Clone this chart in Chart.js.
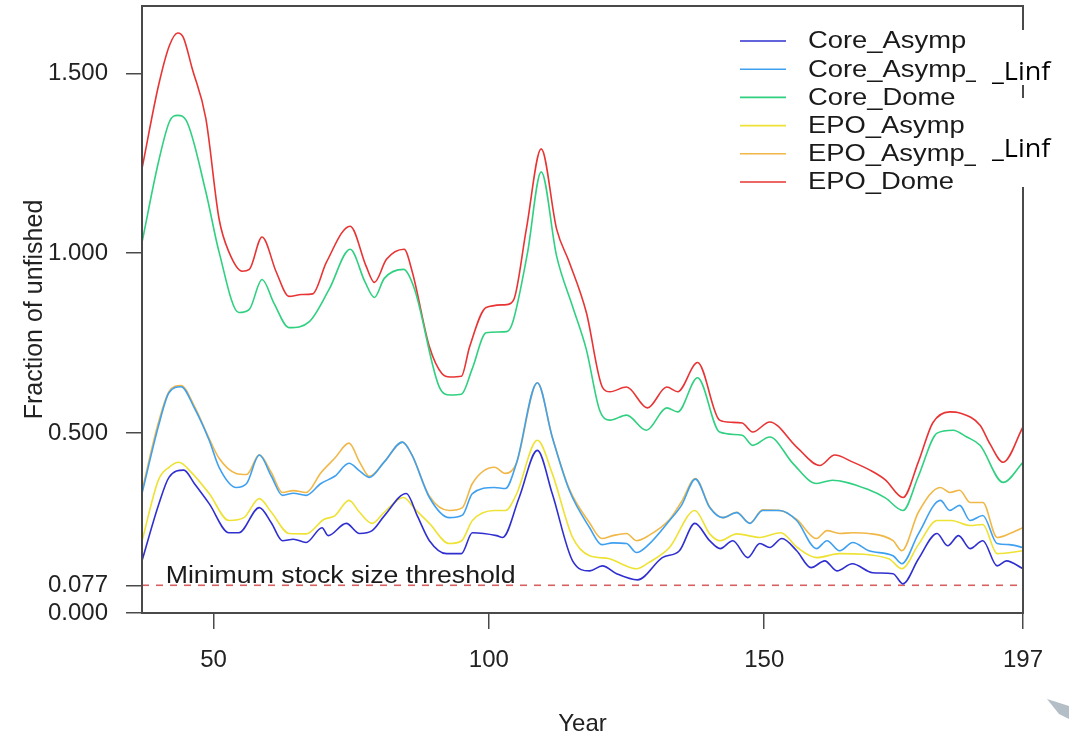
<!DOCTYPE html>
<html><head><meta charset="utf-8">
<script src="https://cdn.jsdelivr.net/npm/chart.js@4.4.1/dist/chart.umd.min.js"></script>
<style>html,body{margin:0;padding:0;background:#fff;}canvas{display:block;}</style>
</head><body>
<canvas id="c" width="1069" height="740"></canvas>
<script>
// ---- data ----
const seriesNames = ['Core_Asymp','Core_Asymp_Linf','Core_Dome','EPO_Asymp','EPO_Asymp_Linf','EPO_Dome'];
const legendText = ['Core_Asymp','Core_Asymp_','Core_Dome','EPO_Asymp','EPO_Asymp_','EPO_Dome'];
const legendOverlayText = '_Linf';

const coreAsympYears = [37,40,41.9,44.6,46.5,49.2,52.8,54.6,58.3,60.5,62.5,64.5,66.8,69.7,70.8,74.1,76.5,78.8,81,85,87,89.2,92.3,95,97,101.4,102.5,105.5,108.8,111.5,115.2,118.3,120.6,123.2,127,131.5,134.6,137.4,140.1,142,144.3,147,149.2,151,153.2,155.9,158.5,161,163.2,166,169.7,173.4,175.2,178,181.4,183.3,185.3,187.4,189.7,192.3,194,197];
const coreAsympValues = [0.145,0.3,0.377,0.397,0.36,0.304,0.223,0.223,0.293,0.25,0.201,0.205,0.196,0.237,0.215,0.249,0.221,0.229,0.27,0.332,0.27,0.201,0.165,0.165,0.223,0.215,0.21,0.321,0.452,0.332,0.145,0.117,0.131,0.109,0.092,0.154,0.173,0.249,0.201,0.179,0.201,0.154,0.193,0.182,0.207,0.173,0.126,0.145,0.117,0.137,0.112,0.109,0.081,0.15,0.221,0.187,0.215,0.179,0.201,0.131,0.145,0.123];

const linfYears = [37,40,41.9,44.1,46.5,49.2,51,54.1,56,58.3,60.5,62.5,64.5,66.8,69.5,72,74.6,76.5,78.3,81,84.3,86,89.2,92.8,95.2,97,101,103,105,108.8,111.5,114.6,118.3,120.5,122.5,125,126.8,129,132.8,135,137.5,140.1,142.5,145,147.4,149.7,152.8,155.9,159.5,161.4,163.7,166.1,169,173.4,175,178,182,183.7,185.5,187.4,189.7,192.3,194.5,197];
const coreAsympLinfValues = [0.332,0.52,0.612,0.629,0.57,0.48,0.405,0.349,0.36,0.439,0.38,0.327,0.333,0.327,0.36,0.38,0.416,0.395,0.377,0.42,0.475,0.44,0.321,0.265,0.272,0.332,0.349,0.346,0.416,0.64,0.489,0.341,0.237,0.19,0.195,0.193,0.168,0.19,0.257,0.3,0.372,0.293,0.265,0.279,0.249,0.285,0.285,0.257,0.179,0.201,0.173,0.196,0.173,0.159,0.137,0.22,0.313,0.285,0.299,0.257,0.271,0.193,0.19,0.182];
const epoAsympLinfValues = [0.34,0.53,0.615,0.632,0.575,0.485,0.43,0.388,0.385,0.44,0.39,0.335,0.34,0.335,0.39,0.43,0.472,0.42,0.38,0.42,0.475,0.44,0.325,0.285,0.293,0.36,0.405,0.388,0.416,0.64,0.49,0.345,0.25,0.207,0.215,0.221,0.201,0.215,0.26,0.31,0.374,0.295,0.265,0.28,0.25,0.287,0.285,0.26,0.207,0.229,0.221,0.223,0.221,0.201,0.173,0.28,0.349,0.335,0.341,0.307,0.307,0.21,0.22,0.237];

const coreDomeYears = [37,40,42,43.5,45,48.6,51,54.6,56.5,58.8,61,63.7,67.4,71,74.8,77.5,79.2,81,84.5,86.5,91,93,95,97,99.5,103.2,104.3,107,109.5,112.3,115.2,117.7,120.1,122,125,128.6,132.3,134.3,137.9,141.9,146,147.9,151,155.2,159.5,162.4,169.2,172,175.2,178,181.4,184.3,186.8,189.2,193.4,197];
const coreDomeValues = [1.03,1.254,1.366,1.383,1.37,1.17,1.003,0.835,0.844,0.927,0.86,0.793,0.81,0.9,1.011,0.92,0.877,0.93,0.955,0.9,0.628,0.606,0.608,0.68,0.779,0.782,0.807,1.0,1.226,0.992,0.852,0.732,0.564,0.536,0.55,0.508,0.57,0.559,0.654,0.503,0.494,0.466,0.489,0.416,0.36,0.369,0.341,0.32,0.285,0.38,0.5,0.508,0.489,0.466,0.363,0.419];

const epoAsympYears = [37,40,41.9,43.7,46,49.2,52.8,55.5,58.3,60.5,63.7,66.8,70,72,74.6,76.5,78.8,81,84.5,86.5,89.2,92.8,95,97,101,103,105,108.8,111.5,115.2,118.3,121.9,124,126.8,129,132.8,137.4,140.1,142,145,149.2,153,156,159.5,163.7,172.6,175,178,181.4,184,187.4,189.7,192.3,197];
const epoAsympValues = [0.2,0.37,0.405,0.419,0.39,0.332,0.257,0.265,0.318,0.28,0.221,0.22,0.26,0.27,0.313,0.28,0.249,0.28,0.321,0.29,0.249,0.193,0.2,0.257,0.285,0.285,0.33,0.48,0.388,0.21,0.159,0.151,0.137,0.123,0.14,0.182,0.285,0.22,0.201,0.22,0.21,0.223,0.182,0.154,0.165,0.151,0.123,0.19,0.257,0.257,0.243,0.246,0.165,0.173];

const epoDomeYears = [37,40,42,43.5,44.5,46.1,48.6,51,52.8,55.2,56.5,58.8,61.4,63.7,66,68,70.5,74.8,77.7,79.2,81.4,84.6,86.1,89.2,91.5,93,95,96.5,99.5,103.2,104.5,106.8,109.5,112.3,114.6,117.7,120.6,122,125,128.8,132.3,134.3,137.9,141.9,144,146,147.9,151,155.9,160.1,162.8,166,169.2,172,175.2,178,180.6,183.7,185.5,189.2,191,193.4,197];
const epoDomeValues = [1.235,1.466,1.578,1.612,1.60,1.514,1.374,1.095,1.003,0.95,0.955,1.045,0.947,0.88,0.885,0.887,0.975,1.075,0.964,0.919,0.983,1.011,0.947,0.74,0.665,0.656,0.658,0.74,0.849,0.857,0.87,1.067,1.29,1.067,0.975,0.835,0.628,0.615,0.628,0.57,0.628,0.615,0.696,0.536,0.53,0.528,0.503,0.531,0.461,0.41,0.439,0.42,0.397,0.37,0.321,0.42,0.528,0.559,0.556,0.522,0.47,0.419,0.517];

const thresholdValue = 0.077;
const thresholdLabel = 'Minimum stock size threshold';
const xTickValues = [50, 100, 150, 197];
const yTickValues = [0, 0.077, 0.5, 1.0, 1.5];
const xRange = [37, 197];
const yRange = [0, 1.687];

// ---- styles ----
const seriesColors = ['#2f2fd0', '#3fa0f0', '#2fd080', '#eee234', '#f0b848', '#e83434'];
const FONT = '"Liberation Sans", Arial, sans-serif';

function pts(xs, ys) { return xs.map((x, i) => ({x: x, y: ys[i]})); }
const seriesData = [
  pts(coreAsympYears, coreAsympValues),
  pts(linfYears, coreAsympLinfValues),
  pts(coreDomeYears, coreDomeValues),
  pts(epoAsympYears, epoAsympValues),
  pts(linfYears, epoAsympLinfValues),
  pts(epoDomeYears, epoDomeValues)
];

const datasets = seriesNames.map((name, i) => ({
  label: name,
  data: seriesData[i],
  borderColor: seriesColors[i],
  borderWidth: 1.6,
  pointRadius: 0,
  fill: false,
  cubicInterpolationMode: 'monotone'
}));
datasets.push({
  label: 'threshold',
  data: [{x: xRange[0], y: thresholdValue}, {x: xRange[1], y: thresholdValue}],
  borderColor: '#d86060',
  borderWidth: 1.6,
  borderDash: [7, 7],
  pointRadius: 0,
  fill: false
});

const decor = {
  id: 'decor',
  beforeDraw(chart) {
    const ctx = chart.ctx;
    ctx.save(); ctx.fillStyle = '#fff'; ctx.fillRect(0, 0, chart.width, chart.height); ctx.restore();
  },
  afterDraw(chart) {
    const {ctx, chartArea: a, scales} = chart;
    ctx.save();
    // box
    ctx.strokeStyle = '#4a4a4a'; ctx.lineWidth = 2;
    ctx.strokeRect(a.left, a.top, a.right - a.left, a.bottom - a.top);
    // threshold text
    ctx.fillStyle = '#1a1a1a';
    ctx.font = '23px ' + FONT;
    ctx.textBaseline = 'alphabetic';
    ctx.save();
    ctx.translate(scales.x.getPixelForValue(41.3), scales.y.getPixelForValue(thresholdValue) - 2);
    ctx.scale(1.16, 1);
    ctx.fillText(thresholdLabel, 0, 0);
    ctx.restore();
    // legend
    const rowY0 = 41, rowH = 28.2;
    legendText.forEach((t, i) => {
      const yy = rowY0 + i * rowH;
      ctx.strokeStyle = seriesColors[i]; ctx.lineWidth = 1.6;
      ctx.beginPath(); ctx.moveTo(740, yy); ctx.lineTo(786, yy); ctx.stroke();
      ctx.save();
      ctx.translate(808, yy); ctx.scale(1.19, 1);
      ctx.textBaseline = 'middle'; ctx.fillStyle = '#1a1a1a';
      ctx.fillText(t, 0, 1);
      ctx.restore();
    });
    // pasted "_Linf" overlays
    ctx.fillStyle = '#fff';
    ctx.fillRect(976, 30, 93, 55);
    ctx.fillRect(976, 98, 93, 89);
    ctx.fillStyle = '#000';
    ctx.font = '25px "Open Sans", "Noto Sans", sans-serif';
    ctx.textBaseline = 'alphabetic';
    [80, 157].forEach(by => {
      ctx.save(); ctx.translate(992, by); ctx.scale(1.08, 1); ctx.fillText(legendOverlayText, 0, 0); ctx.restore();
    });
    // page-curl artifact, bottom right
    ctx.fillStyle = '#b4bec6';
    ctx.beginPath(); ctx.moveTo(1047, 699); ctx.lineTo(1069, 706); ctx.lineTo(1069, 719); ctx.lineTo(1059, 714); ctx.closePath(); ctx.fill();
    ctx.restore();
  }
};

Chart.defaults.font.family = FONT;
new Chart(document.getElementById('c'), {
  type: 'line',
  data: {datasets: datasets},
  options: {
    responsive: false,
    devicePixelRatio: 1,
    animation: false,
    layout: {padding: {top: 6, right: 46, left: 0, bottom: 0}},
    plugins: {legend: {display: false}, tooltip: {enabled: false}},
    scales: {
      x: {
        type: 'linear', min: xRange[0], max: xRange[1],
        afterBuildTicks: s => { s.ticks = xTickValues.map(v => ({value: v})); },
        afterFit: s => { s.height = 127; s.paddingLeft = 0; s.paddingRight = 0; },
        ticks: {font: {size: 24}, color: '#222', padding: 17, autoSkip: false, maxRotation: 0, callback: v => String(v)},
        grid: {display: true, drawOnChartArea: false, drawTicks: true, tickLength: 16, color: '#4a4a4a', lineWidth: 1.5},
        border: {display: false},
        title: {display: true, text: 'Year', font: {size: 24}, color: '#222', padding: {top: 0, bottom: 1}}
      },
      y: {
        type: 'linear', min: yRange[0], max: yRange[1],
        afterBuildTicks: s => { s.ticks = yTickValues.map(v => ({value: v})); },
        afterFit: s => { s.width = 142; s.paddingTop = 0; s.paddingBottom = 0; },
        ticks: {font: {size: 24}, color: '#222', padding: 18, autoSkip: false, callback: v => Number(v).toFixed(3)},
        grid: {display: true, drawOnChartArea: false, drawTicks: true, tickLength: 16, color: '#4a4a4a', lineWidth: 1.5},
        border: {display: false},
        title: {display: true, text: 'Fraction of unfished', font: {size: 25}, color: '#222', padding: {top: 20, bottom: 0}}
      }
    }
  },
  plugins: [decor]
});
</script>
</body></html>
